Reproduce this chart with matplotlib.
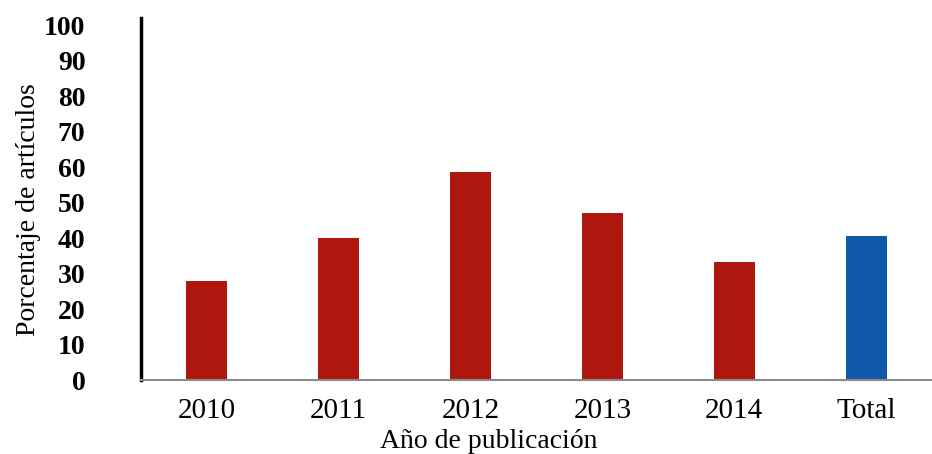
import matplotlib
matplotlib.use("Agg")
import matplotlib.pyplot as plt

# Porcentaje de artículos por año de publicación
categories = ["2010", "2011", "2012", "2013", "2014", "Total"]
values = [27.9, 39.9, 58.7, 47.1, 33.3, 40.6]
yticks = list(range(0, 101, 10))

RED = "#AD170D"
BLUE = "#1059A8"
colors = [RED] * 5 + [BLUE]

plt.rcParams["font.family"] = ["Liberation Serif", "DejaVu Serif"]

fig = plt.figure(figsize=(9.32, 4.54), dpi=100)
ax = fig.add_axes([141 / 932, 74 / 454, 791 / 932, 362 / 454])

x = list(range(len(categories)))
ax.bar(x, values, width=0.31, color=colors, zorder=2)

ax.set_xlim(-0.5, len(categories) - 0.5)
ax.set_ylim(0, 102)
ax.set_yticks(yticks)
ax.set_xticks(x)
ax.set_xticklabels(categories, fontsize=21)
ax.set_yticklabels([str(t) for t in yticks], fontsize=20, fontweight="bold")

ax.tick_params(axis="y", length=0, pad=40)
ax.tick_params(axis="x", length=0, pad=13)

for side in ["top", "right"]:
    ax.spines[side].set_visible(False)
ax.spines["left"].set_linewidth(2.5)
ax.spines["left"].set_color("black")
ax.spines["bottom"].set_linewidth(1.5)
ax.spines["bottom"].set_color("#8a8a8a")

ax.set_ylabel("Porcentaje de artículos", fontsize=20)
ax.yaxis.set_label_coords(-0.127, 0.47)
ax.set_xlabel("Año de publicación", fontsize=20)
ax.xaxis.set_label_coords(0.44, -0.135)

fig.savefig("out.png", dpi=100)
